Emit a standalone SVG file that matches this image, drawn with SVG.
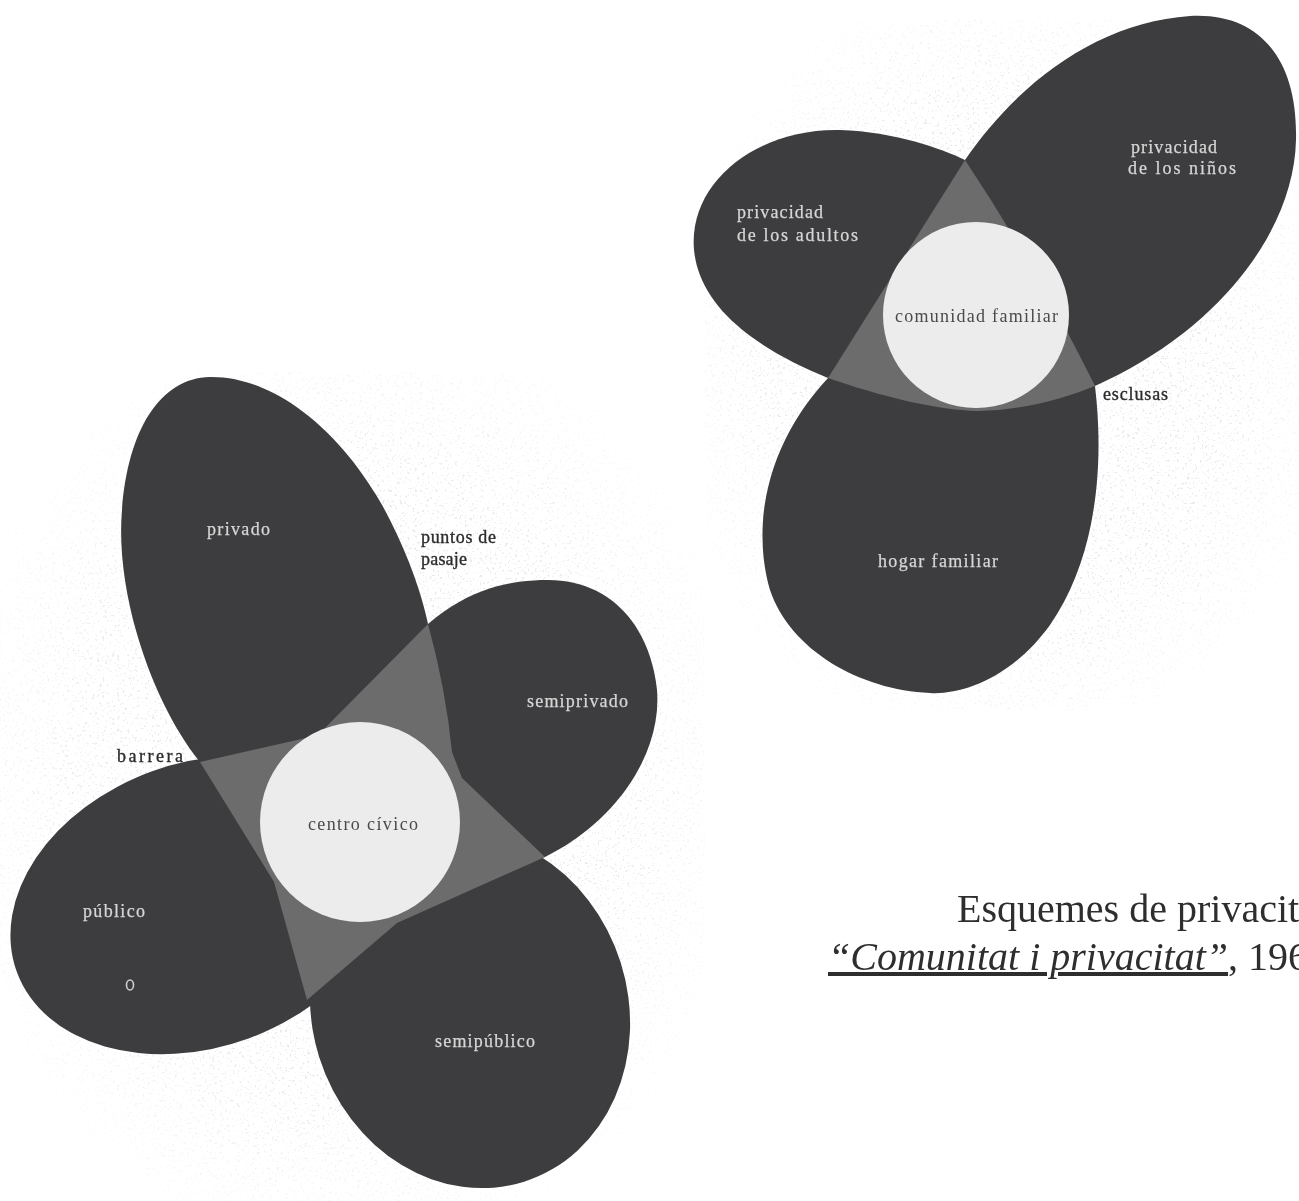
<svg xmlns="http://www.w3.org/2000/svg" width="1299" height="1201" viewBox="0 0 1299 1201">
  <style>
    .petal { fill: #3d3d3f; }
    .overlap { fill: #6c6c6c; }
    .core { fill: #ececec; }
    .lbl { font-family: "Liberation Serif", "Times New Roman", serif; font-size: 18px; }
    .in { fill: #d6d6d6; stroke: #d6d6d6; stroke-width: 0.25; }
    .out { fill: #2c2c2c; stroke: #2c2c2c; stroke-width: 0.35; }
    .mid { fill: #4a4a4a; }
    .caption { font-family: "Liberation Serif", "Times New Roman", serif; font-size: 40px; fill: #2e2e2e; }
  </style>
  <defs>
    <filter id="speckle" x="0" y="0" width="1" height="1">
      <feTurbulence type="fractalNoise" baseFrequency="0.4" numOctaves="3" seed="7" result="n"/>
      <feColorMatrix in="n" type="matrix" values="0 0 0 0 0.72  0 0 0 0 0.72  0 0 0 0 0.72  12 0 0 0 -7.5"/>
    </filter>
    <radialGradient id="fade" cx="0.5" cy="0.5" r="0.6">
      <stop offset="0.6" stop-color="#fff" stop-opacity="1"/>
      <stop offset="1" stop-color="#fff" stop-opacity="0"/>
    </radialGradient>
    <mask id="paperMask" maskUnits="userSpaceOnUse" x="0" y="0" width="1299" height="1201">
      <rect x="0" y="372" width="705" height="829" fill="url(#fade)"/>
      <rect x="705" y="20" width="594" height="690" fill="url(#fade)"/>
    </mask>
  </defs>
  <rect x="0" y="0" width="1299" height="1201" fill="#ffffff"/>

  <!-- faint scan texture of the paper behind the two drawings -->
  <g id="paper" opacity="0.6" mask="url(#paperMask)">
    <rect x="0" y="372" width="705" height="829" filter="url(#speckle)"/>
    <rect x="705" y="20" width="594" height="690" filter="url(#speckle)"/>
  </g>

  <!-- LEFT DIAGRAM: public / private levels -->
  <g id="left-diagram">
    <g id="privado">
      <path class="petal" d="M200,762 C150,700 115,590 122,510 C128,430 160,378 210,377 C280,376 350,440 390,520 C410,560 422,595 428,624 L455,760 L360,822 Z"/>
      <text class="lbl in" x="207" y="535" textLength="63" lengthAdjust="spacing">privado</text>
    </g>
    <g id="semiprivado">
      <path class="petal" d="M428,624 C470,588 510,580 548,580 C610,580 650,625 657,690 C662,750 620,820 545,857 L470,885 L360,822 Z"/>
      <text class="lbl in" x="527" y="707" textLength="101" lengthAdjust="spacing">semiprivado</text>
    </g>
    <g id="semipublico">
      <ellipse class="petal" cx="470" cy="1010" rx="158" ry="180" transform="rotate(-17.5 470 1010)"/>
      <text class="lbl in" x="435" y="1047" textLength="100" lengthAdjust="spacing">semipúblico</text>
    </g>
    <g id="publico">
      <ellipse class="petal" cx="200" cy="905" rx="195" ry="142" transform="rotate(-20 200 905)"/>
      <text class="lbl in" x="83" y="917" textLength="62" lengthAdjust="spacing">público</text>
      <ellipse cx="130" cy="985" rx="3.5" ry="5" fill="none" stroke="#cfcfcf" stroke-width="1.6"/>
    </g>
    <g id="left-overlaps">
      <path class="overlap" d="M428,624 Q446,690 452,752 L462,778 L545,857 L397,923 L307,1000 L274,882 L200,762 L306,738 L345,800 L325,728 Z"/>
    </g>
    <g id="centro-civico">
      <circle class="core" cx="360" cy="822" r="100"/>
      <text class="lbl mid" x="308" y="830" textLength="110" lengthAdjust="spacing">centro cívico</text>
    </g>
    <g id="left-labels">
      <text class="lbl out" x="421" y="543" textLength="75" lengthAdjust="spacing">puntos de</text>
      <text class="lbl out" x="421" y="565" textLength="46" lengthAdjust="spacing">pasaje</text>
      <text class="lbl out" x="117" y="762" textLength="66" lengthAdjust="spacing">barrera</text>
    </g>
  </g>

  <!-- RIGHT DIAGRAM: family -->
  <g id="right-diagram">
    <g id="adultos">
      <path class="petal" d="M828,378 C760,350 700,310 694,250 C688,180 760,128 840,130 C895,132 940,148 965,160 L976,315 Z"/>
      <text class="lbl in" x="737" y="218" textLength="86" lengthAdjust="spacing">privacidad</text>
      <text class="lbl in" x="737" y="241" textLength="121" lengthAdjust="spacing">de los adultos</text>
    </g>
    <g id="ninos">
      <path class="petal" d="M965,160 C1020,80 1100,22 1190,16 C1260,12 1298,60 1296,140 C1294,230 1220,330 1095,386 L976,315 Z"/>
      <text class="lbl in" x="1131" y="153" textLength="86" lengthAdjust="spacing">privacidad</text>
      <text class="lbl in" x="1128" y="174" textLength="108" lengthAdjust="spacing">de los niños</text>
    </g>
    <g id="hogar">
      <path class="petal" d="M1095,386 C1105,470 1095,560 1050,625 C1010,680 960,695 930,693 C860,690 790,650 770,590 C750,520 770,440 828,378 L976,315 Z"/>
      <text class="lbl in" x="878" y="567" textLength="120" lengthAdjust="spacing">hogar familiar</text>
    </g>
    <g id="right-overlaps">
      <path class="overlap" d="M965,160 L828,378 C880,396 935,410 978,411 C1025,410 1065,398 1095,386 Q1035,265 965,160 Z"/>
    </g>
    <g id="comunidad">
      <circle class="core" cx="976" cy="315" r="93"/>
      <text class="lbl mid" x="895" y="322" textLength="163" lengthAdjust="spacing">comunidad familiar</text>
    </g>
    <g id="right-labels">
      <text class="lbl out" x="1103" y="400" textLength="65" lengthAdjust="spacing">esclusas</text>
    </g>
  </g>

  <!-- CAPTION (cut by the right edge, as in the reference) -->
  <g id="caption">
    <text class="caption" x="957" y="922">Esquemes de privacitat</text>
    <text class="caption" x="828" y="970"><tspan font-style="italic" text-decoration="underline">“Comunitat i privacitat”</tspan>, 196</text>
  </g>
</svg>
